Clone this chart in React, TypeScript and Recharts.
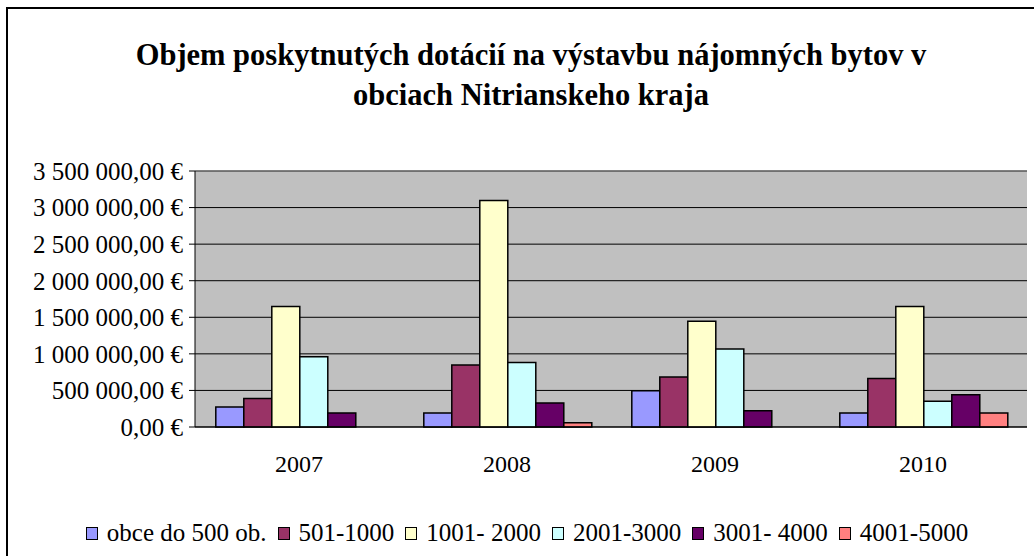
import React from 'react';
import { BarChart, Bar, XAxis, YAxis, CartesianGrid, Legend, ReferenceLine } from 'recharts';

const years = ['2007', '2008', '2009', '2010'];
const obceDo500 = [274000, 192000, 497000, 192000];
const s501to1000 = [388000, 849000, 685000, 662000];
const s1001to2000 = [1648000, 3096000, 1447000, 1648000];
const s2001to3000 = [959000, 881000, 1068000, 351000];
const s3001to4000 = [192000, 329000, 223000, 442000];
const s4001to5000 = [null, 59000, null, 192000];

const seriesNames = ['obce do 500 ob.', '501-1000', '1001- 2000', '2001-3000', '3001- 4000', '4001-5000'];
const seriesColors = ['#9999FF', '#993366', '#FFFFCC', '#CCFFFF', '#660066', '#FF8080'];
const seriesValues = [obceDo500, s501to1000, s1001to2000, s2001to3000, s3001to4000, s4001to5000];
const yTicks = [0, 500000, 1000000, 1500000, 2000000, 2500000, 3000000, 3500000];
const edgeTicks = [0, 1, 2, 3, 4];
const titleLines = ['Objem poskytnutých dotácií na výstavbu nájomných bytov v', 'obciach Nitrianskeho kraja'];

const data = years.map((year, i) => {
  const row: Record<string, any> = { year };
  seriesValues.forEach((vals, s) => {
    row['s' + s] = vals[i];
  });
  return row;
});

const FONT = 'Liberation Serif';

function fmtEuro(v: number): string {
  const s = Math.round(v).toString();
  const parts: string[] = [];
  for (let i = s.length; i > 0; i -= 3) {
    parts.unshift(s.substring(Math.max(0, i - 3), i));
  }
  return parts.join(' ') + ',00 €';
}

const LegendContent = () => (
  <div
    style={{
      display: 'flex',
      justifyContent: 'center',
      alignItems: 'center',
      fontFamily: FONT,
      fontSize: 25,
      color: '#000',
      whiteSpace: 'nowrap',
    }}
  >
    {seriesNames.map((name, i) => (
      <span key={name} style={{ display: 'inline-flex', alignItems: 'center', marginRight: i < seriesNames.length - 1 ? 11 : 0 }}>
        <span
          style={{
            display: 'inline-block',
            width: 10,
            height: 11,
            background: seriesColors[i],
            border: '1.5px solid #000',
            marginRight: 9,
          }}
        />
        {name}
      </span>
    ))}
  </div>
);

export default function App() {
  return (
    <div
      style={{
        position: 'fixed',
        left: 0,
        top: 0,
        width: 1034,
        height: 556,
        overflow: 'hidden',
        background: '#fff',
      }}
    >
      <div
        style={{
          position: 'absolute',
          left: 6,
          top: 7,
          width: 1100,
          height: 700,
          border: '2px solid #000',
          boxSizing: 'border-box',
        }}
      />
      <div
        style={{
          position: 'absolute',
          left: 6,
          top: 35,
          width: 1050,
          textAlign: 'center',
          fontFamily: FONT,
          fontWeight: 'bold',
          fontSize: 30.5,
          lineHeight: '40px',
          color: '#000',
        }}
      >
        {titleLines.map((t) => (
          <div key={t}>{t}</div>
        ))}
      </div>
      <div style={{ position: 'absolute', left: 0, top: 0 }}>
        <BarChart
          width={1034}
          height={556}
          data={data}
          margin={{ top: 171, right: 7, bottom: 99, left: 0 }}
          barCategoryGap="10%"
          barGap={0}
        >
          <CartesianGrid vertical={false} stroke="#000" strokeWidth={1} fill="#C0C0C0" fillOpacity={1} />
          <XAxis
            xAxisId="edges"
            type="number"
            domain={[0, 4]}
            ticks={edgeTicks}
            tick={false}
            tickLine={{ stroke: '#000', strokeWidth: 1 }}
            tickSize={7}
            axisLine={false}
            height={0}
          />
          <XAxis
            dataKey="year"
            axisLine={{ stroke: '#000', strokeWidth: 1 }}
            tickLine={false}
            tickSize={8}
            tickMargin={20}
            height={30}
            tick={{ fill: '#000', fontFamily: FONT, fontSize: 24 }}
            interval={0}
          />
          <YAxis
            width={195}
            domain={[0, 3500000]}
            ticks={yTicks}
            interval={0}
            tickFormatter={fmtEuro}
            axisLine={{ stroke: '#000', strokeWidth: 1 }}
            tickLine={{ stroke: '#000', strokeWidth: 1 }}
            tickSize={6}
            tickMargin={6}
            tick={{ fill: '#000', fontFamily: FONT, fontSize: 25 }}
          />
          <ReferenceLine y={3500000} stroke="#808080" strokeWidth={1} />
          <ReferenceLine xAxisId="edges" x={4} stroke="#808080" strokeWidth={1} />
          {seriesNames.map((name, i) => (
            <Bar
              key={name}
              dataKey={'s' + i}
              name={name}
              fill={seriesColors[i]}
              stroke="#000"
              strokeWidth={1.5}
              isAnimationActive={false}
            />
          ))}
          <Legend
            verticalAlign="middle"
            align="center"
            layout="horizontal"
            wrapperStyle={{ top: 519, left: 0, width: 1054, height: 32 }}
            content={() => <LegendContent />}
          />
        </BarChart>
      </div>
    </div>
  );
}
